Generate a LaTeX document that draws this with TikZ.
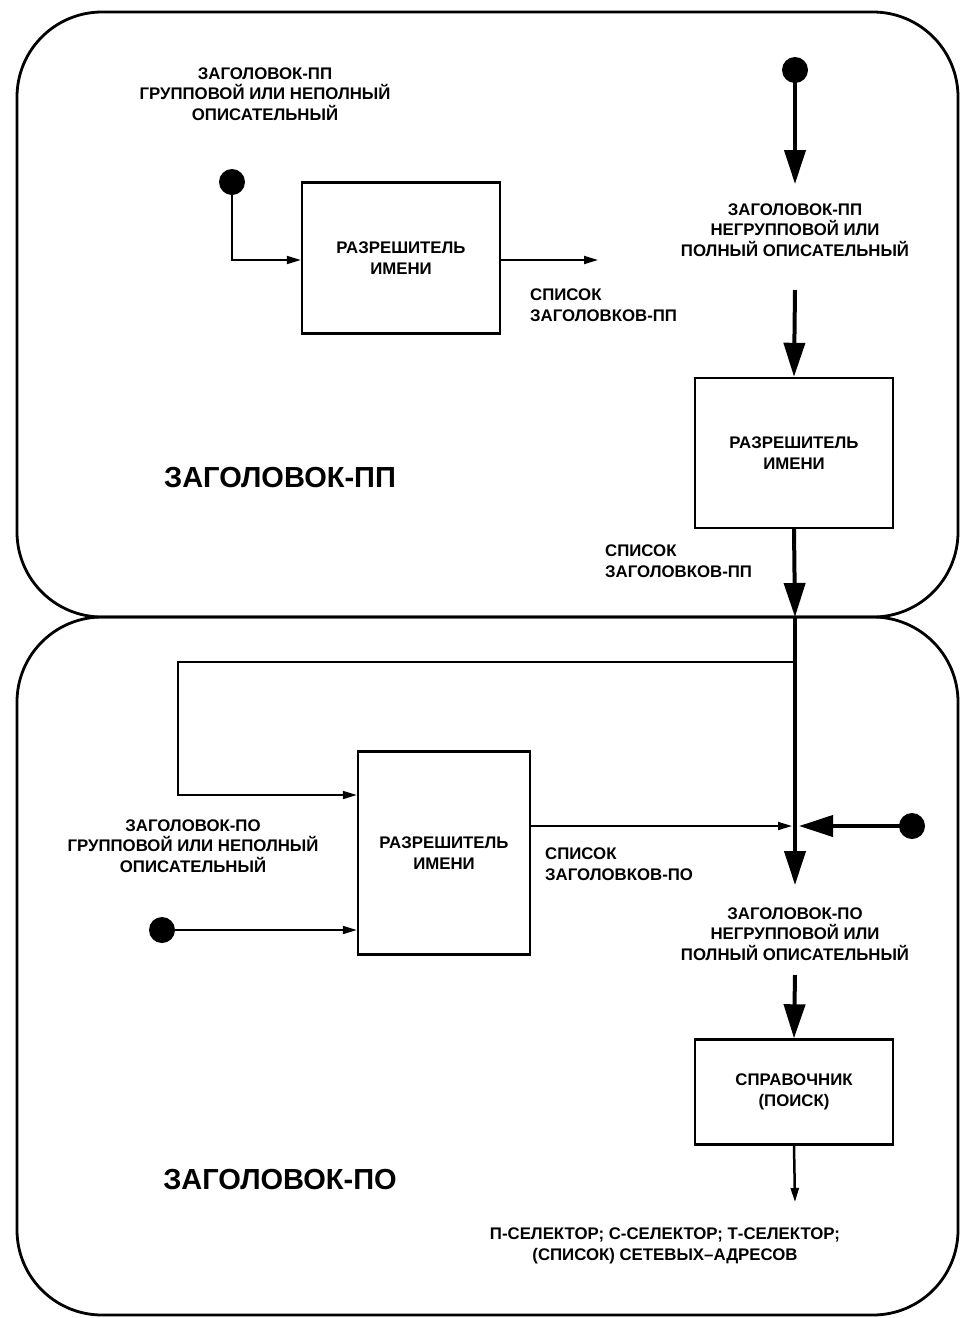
\documentclass[tikz,border=0pt]{standalone}
\usepackage{fontspec}
\setmainfont{Liberation Sans}
\usetikzlibrary{arrows.meta}
\begin{document}
\begin{tikzpicture}[x=1pt,y=-1pt,
  lbl/.style={font=\fontsize{16.8}{20.5}\selectfont\bfseries, align=center, inner sep=0pt},
  lbll/.style={font=\fontsize{16.8}{20.5}\selectfont\bfseries, align=left, inner sep=0pt, anchor=west},
  big/.style={font=\fontsize{29}{32}\selectfont\bfseries, inner sep=0pt},
  procbox/.style={draw, line width=2.4pt, minimum width=198pt, inner sep=0pt, align=center,
     font=\fontsize{16.8}{20.5}\selectfont\bfseries},
  dot/.style={circle, fill, inner sep=0pt, minimum size=26pt},
  thin/.style={line width=1.8pt, -{Triangle[length=14pt,width=8pt]}},
  thickarr/.style={line width=4pt, -{Triangle[length=34pt,width=21pt]}},
  frame/.style={draw, line width=2.8pt, rounded corners=85pt}
]
\useasboundingbox (0,0) rectangle (963,1318);
% frames
\draw[frame] (17,617) rectangle (958,12);
\draw[frame] (17,617) rectangle (958,1315);

% ---------- top region ----------
\node[lbl] (zpp1) at (265,94) {ЗАГОЛОВОК-ПП\\ГРУППОВОЙ ИЛИ НЕПОЛНЫЙ\\ОПИСАТЕЛЬНЫЙ};
\node[dot] (d1) at (232,182) {};
\node[procbox, minimum height=151pt] (b1) at (401,258) {РАЗРЕШИТЕЛЬ\\ИМЕНИ};
\coordinate (c1) at (232,260);
\draw[thin] (d1.center) -- (c1) -- (b1.west |- c1);
\coordinate (s1) at (598,260);
\draw[thin] (b1.east |- s1) -- (s1);
\node[lbll] (sp1) at (530,305) {СПИСОК\\ЗАГОЛОВКОВ-ПП};

\node[dot] (d2) at (795,70) {};
\coordinate (t2) at (795,184);
\draw[thickarr] (d2.center) -- (t2);
\node[lbl] (zpp2) at (795,230) {ЗАГОЛОВОК-ПП\\НЕГРУППОВОЙ ИЛИ\\ПОЛНЫЙ ОПИСАТЕЛЬНЫЙ};
\node[procbox, minimum height=150pt] (b2) at (794,453) {РАЗРЕШИТЕЛЬ\\ИМЕНИ};
\coordinate (a2) at (795,290);
\draw[thickarr] (a2) -- (b2.north);
\node[lbll] (sp2) at (605,561) {СПИСОК\\ЗАГОЛОВКОВ-ПП};
\coordinate (j1) at (795,617);
\draw[thickarr] (b2.south) -- (j1);
\node[big] (tpp) at (280,478) {ЗАГОЛОВОК-ПП};

% ---------- bottom region ----------
\coordinate (j2) at (795,885);
\draw[thickarr] (j1) -- (j2);
\node[procbox, minimum width=172pt, minimum height=203pt] (b3) at (444,853) {РАЗРЕШИТЕЛЬ\\ИМЕНИ};
\coordinate (fb) at (795,662);
\coordinate (fb1) at (178,662);
\coordinate (fb2) at (178,795);
\draw[thin] (fb) -- (fb1) -- (fb2) -- (b3.west |- fb2);
\node[lbl] (zpo1) at (193,846) {ЗАГОЛОВОК-ПО\\ГРУППОВОЙ ИЛИ НЕПОЛНЫЙ\\ОПИСАТЕЛЬНЫЙ};
\node[dot] (d3) at (162,930) {};
\draw[thin] (d3.center) -- (b3.west |- d3);
\coordinate (m1) at (792,826);
\draw[thin] (b3.east |- m1) -- (m1);
\node[lbll] (sp3) at (545,864) {СПИСОК\\ЗАГОЛОВКОВ-ПО};
\node[dot] (d4) at (912,826) {};
\coordinate (m2) at (799,826);
\draw[thickarr] (d4.center) -- (m2);
\node[lbl] (zpo2) at (795,934) {ЗАГОЛОВОК-ПО\\НЕГРУППОВОЙ ИЛИ\\ПОЛНЫЙ ОПИСАТЕЛЬНЫЙ};
\node[procbox, minimum height=105pt] (b4) at (794,1092) {СПРАВОЧНИК\\(ПОИСК)};
\coordinate (a4) at (795,975);
\draw[thickarr] (a4) -- (b4.north);
\coordinate (e4) at (795,1202);
\draw[thin, line width=2.5pt] (b4.south) -- (e4);
\node[lbl] (res) at (665,1246) {П-СЕЛЕКТОР; С-СЕЛЕКТОР; Т-СЕЛЕКТОР;\\(СПИСОК) СЕТЕВЫХ–АДРЕСОВ};
\node[big] (tpo) at (280,1180) {ЗАГОЛОВОК-ПО};
\end{tikzpicture}
\end{document}
